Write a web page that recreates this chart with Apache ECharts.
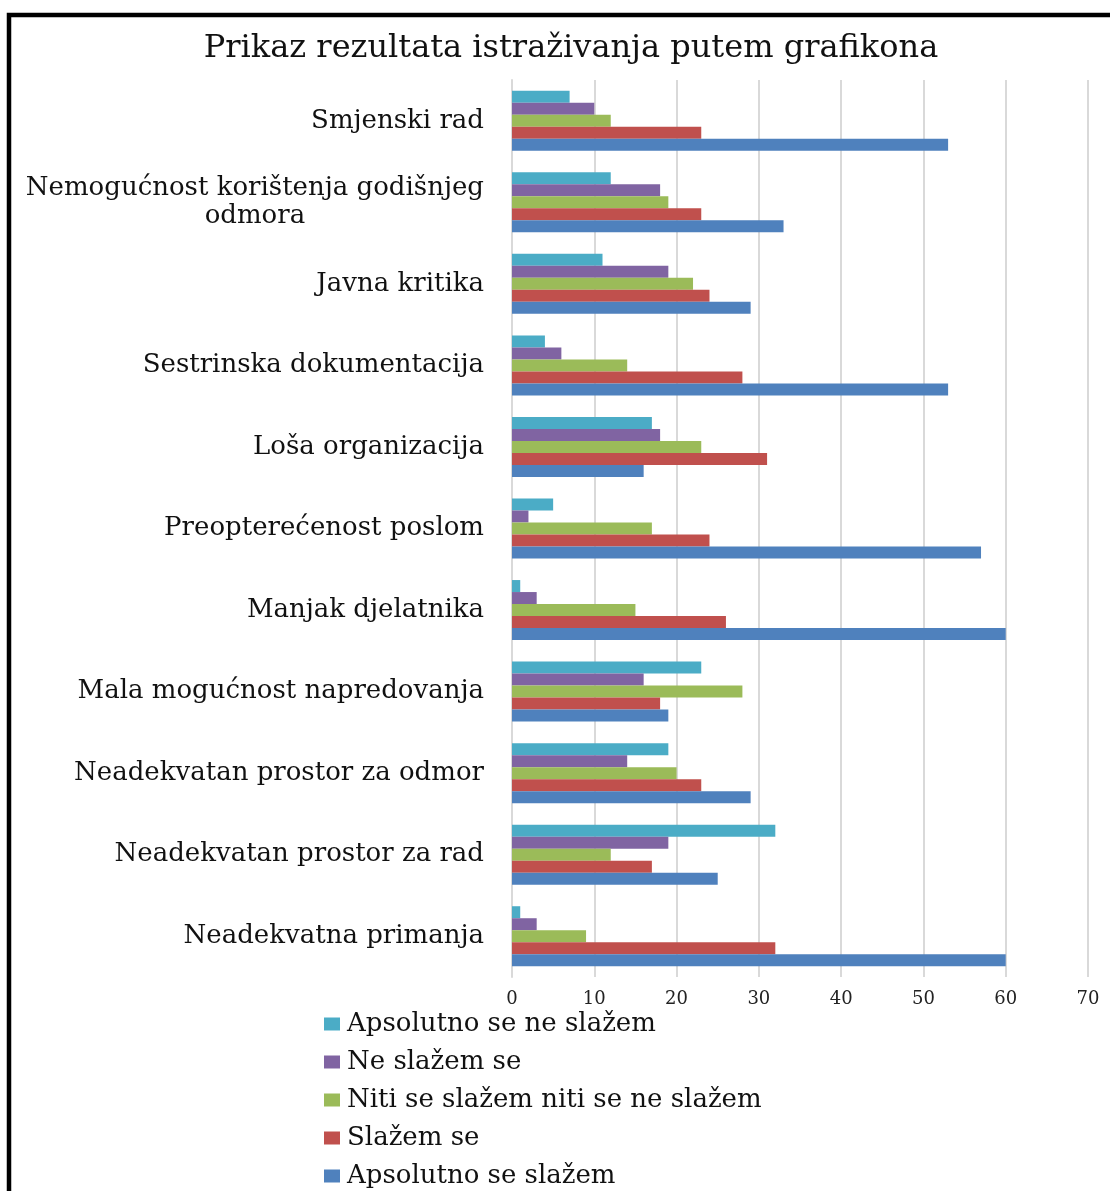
<!DOCTYPE html>
<html>
<head>
<meta charset="utf-8">
<script src="https://cdn.jsdelivr.net/npm/echarts@6/dist/echarts.min.js"></script>
<style>
html,body{margin:0;padding:0;background:#fff;}
#chart{width:1110px;height:1191px;}
</style>
</head>
<body>
<div id="chart"></div>
<script>
// categories, bottom to top
const categories = [
  'Neadekvatna primanja',
  'Neadekvatan prostor za rad',
  'Neadekvatan prostor za odmor',
  'Mala mogućnost napredovanja',
  'Manjak djelatnika',
  'Preopterećenost poslom',
  'Loša organizacija',
  'Sestrinska dokumentacija',
  'Javna kritika',
  'Nemogućnost korištenja godišnjeg odmora',
  'Smjenski rad'
];
const seriesNames = [
  'Apsolutno se ne slažem',
  'Ne slažem se',
  'Niti se slažem niti se ne slažem',
  'Slažem se',
  'Apsolutno se slažem'
];
const apsolutnoSeNeSlazem = [1, 32, 19, 23, 1, 5, 17, 4, 11, 12, 7];
const neSlazemSe          = [3, 19, 14, 16, 3, 2, 18, 6, 19, 18, 10];
const nitiNiti            = [9, 12, 20, 28, 15, 17, 23, 14, 22, 19, 12];
const slazemSe            = [32, 17, 23, 18, 26, 24, 31, 28, 24, 23, 23];
const apsolutnoSeSlazem   = [60, 25, 29, 19, 60, 57, 16, 53, 29, 33, 53];
const xTicks = [0, 10, 20, 30, 40, 50, 60, 70];

const colors = ['#4BACC6', '#8064A2', '#9BBB59', '#C0504D', '#4F81BD'];
const values = [apsolutnoSeNeSlazem, neSlazemSe, nitiNiti, slazemSe, apsolutnoSeSlazem];

const FONT = 'DejaVu Serif';
const chart = echarts.init(document.getElementById('chart'));

// first series is drawn at the top of each group
const series = seriesNames.map((name, i) => ({
  name: name,
  type: 'bar',
  data: values[i],
  barWidth: 12,
  barGap: '0%',
  itemStyle: { color: colors[i] },
  emphasis: { disabled: true }
}));

chart.setOption({
  animation: false,
  backgroundColor: '#fff',
  title: {
    text: 'Prikaz rezultata istraživanja putem grafikona',
    left: 566,
    textAlign: 'center',
    top: 28,
    textStyle: { fontFamily: FONT, fontSize: 32, fontWeight: 'normal', color: '#111' }
  },
  graphic: [{
    type: 'rect',
    shape: { x: 9, y: 15, width: 1300, height: 1400 },
    style: { fill: 'none', stroke: '#000', lineWidth: 4.5 },
    z: 100
  }],
  legend: {
    orient: 'vertical',
    left: 324,
    top: 1011,
    padding: 0,
    itemWidth: 16,
    itemHeight: 13,
    itemGap: 12,
    data: seriesNames,
    icon: 'rect',
    textStyle: { fontFamily: FONT, fontSize: 26, color: '#111', padding: [0, 0, 0, 2] }
  },
  grid: { left: 512, right: 22, top: 80, bottom: 214, containLabel: false },
  xAxis: {
    type: 'value',
    min: xTicks[0],
    max: xTicks[xTicks.length - 1],
    interval: 10,
    axisLine: { show: false },
    axisTick: { show: false },
    splitLine: { show: true, lineStyle: { color: '#d9d9d9', width: 2 } },
    axisLabel: { fontFamily: FONT, fontSize: 18, color: '#222', margin: 13 }
  },
  yAxis: {
    type: 'category',
    data: categories,
    axisLine: { show: true, lineStyle: { color: '#d9d9d9', width: 2 } },
    axisTick: { show: false },
    axisLabel: {
      fontFamily: FONT, fontSize: 26, color: '#111', margin: 28, lineHeight: 28,
      formatter: function (v) {
        if (v.length > 34) {
          const idx = v.lastIndexOf(' ');
          return '{a|' + v.slice(0, idx) + '}\n{c|' + v.slice(idx + 1) + '}';
        }
        return v;
      },
      rich: {
        a: { fontFamily: FONT, fontSize: 26, color: '#111', lineHeight: 28, align: 'right' },
        c: { fontFamily: FONT, fontSize: 26, color: '#111', lineHeight: 28, align: 'center' }
      }
    }
  },
  series: series
});
</script>
</body>
</html>
